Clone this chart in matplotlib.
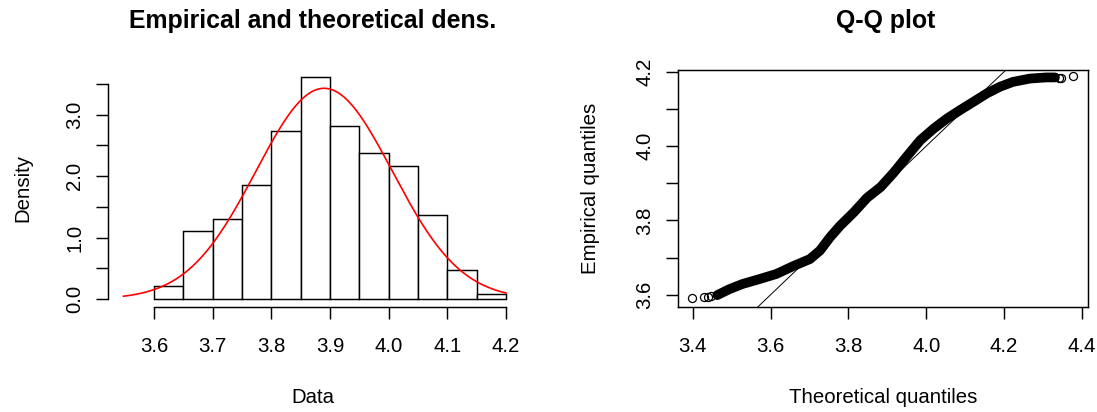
import numpy as np
import matplotlib
matplotlib.use("Agg")
import matplotlib.pyplot as plt

plt.rcParams['font.family'] = ['Liberation Sans', 'DejaVu Sans']

# ---- data: histogram (density) ----
bin_edges = [3.60, 3.65, 3.70, 3.75, 3.80, 3.85, 3.90, 3.95, 4.00, 4.05, 4.10, 4.15, 4.20]
bin_density = [0.21, 1.10, 1.31, 1.85, 2.74, 3.61, 2.82, 2.37, 2.17, 1.36, 0.48, 0.08]

# fitted normal (theoretical density) parameters
norm_mean = 3.89
norm_sd = 0.1163
curve_range = [3.548, 4.20]

# ---- data: Q-Q plot ----
qq_theo = [3.463, 3.494, 3.528, 3.571, 3.615, 3.658, 3.701, 3.727, 3.753, 3.779,
           3.814, 3.848, 3.883, 3.916, 3.950, 3.985, 4.019, 4.053, 4.087, 4.121,
           4.156, 4.190, 4.223, 4.267, 4.309, 4.331]
qq_emp = [3.599, 3.615, 3.629, 3.642, 3.656, 3.677, 3.696, 3.719, 3.755, 3.786,
          3.822, 3.861, 3.890, 3.928, 3.972, 4.016, 4.047, 4.074, 4.097, 4.119,
          4.142, 4.160, 4.173, 4.182, 4.185, 4.185]
qq_tail_theo = [3.397, 3.429, 3.439, 3.448, 4.341, 4.346, 4.378]
qq_tail_emp = [3.590, 3.595, 3.595, 3.597, 4.184, 4.184, 4.189]

hist_xticks = [3.6, 3.7, 3.8, 3.9, 4.0, 4.1, 4.2]
hist_yticks = [0.0, 0.5, 1.0, 1.5, 2.0, 2.5, 3.0, 3.5]
hist_ylabels = ['0.0', '', '1.0', '', '2.0', '', '3.0', '']
qq_xticks = [3.4, 3.6, 3.8, 4.0, 4.2, 4.4]
qq_yticks = [3.6, 3.7, 3.8, 3.9, 4.0, 4.1, 4.2]
qq_ylabels = ['3.6', '', '3.8', '', '4.0', '', '4.2']

W, H = 1097, 412
FS = 14.7
TFS = 17.9
LW = 1.05

fig = plt.figure(figsize=(W / 100, H / 100), dpi=100)
ax1 = fig.add_axes([108 / W, 105 / H, 410 / W, 237 / H])
ax2 = fig.add_axes([678 / W, 105 / H, 410 / W, 237 / H])

# ---- left: histogram + density ----
widths = np.diff(bin_edges)
ax1.bar(bin_edges[:-1], bin_density, width=widths, align='edge',
        facecolor='white', edgecolor='black', linewidth=LW, zorder=2)
xs = np.linspace(curve_range[0], curve_range[1], 300)
ys = np.exp(-0.5 * ((xs - norm_mean) / norm_sd) ** 2) / (norm_sd * np.sqrt(2 * np.pi))
ax1.plot(xs, ys, color='red', linewidth=1.2, zorder=3)

ax1.set_xlim(3.5216, 4.2205)
ax1.set_ylim(-0.130, 3.728)
for s in ['top', 'right']:
    ax1.spines[s].set_visible(False)
ax1.spines['left'].set_bounds(0, 3.5)
ax1.spines['bottom'].set_bounds(3.6, 4.2)
ax1.set_xticks(hist_xticks)
ax1.set_xticklabels([f"{v:.1f}" for v in hist_xticks])
ax1.set_yticks(hist_yticks)
ax1.set_yticklabels(hist_ylabels, rotation=90, va='center')

# ---- right: Q-Q plot ----
ax2.axline((3.6, 3.6), slope=1, color='black', linewidth=0.7, zorder=2)
ax2.plot(qq_theo, qq_emp, color='black', linewidth=7.0,
         solid_capstyle='round', solid_joinstyle='round', zorder=3)
ax2.plot(qq_tail_theo, qq_tail_emp, linestyle='none', marker='o', markersize=5.8,
         markerfacecolor='none', markeredgecolor='black', markeredgewidth=0.9, zorder=4)
ax2.set_xlim(3.362, 4.416)
ax2.set_ylim(3.567, 4.205)
ax2.set_xticks(qq_xticks)
ax2.set_xticklabels([f"{v:.1f}" for v in qq_xticks])
ax2.set_yticks(qq_yticks)
ax2.set_yticklabels(qq_ylabels, rotation=90, va='center')

for ax in (ax1, ax2):
    for sp in ax.spines.values():
        sp.set_linewidth(LW)
    ax.tick_params(axis='both', direction='out', length=8.6, width=LW,
                   labelsize=FS, colors='black')
    ax.tick_params(axis='x', pad=13.0)
    ax.tick_params(axis='y', pad=8.5)

# ---- titles and axis labels ----
fig.text(313 / W, (H - 28) / H, 'Empirical and theoretical dens.', ha='center',
         va='baseline', fontsize=TFS, fontweight='bold')
fig.text(886 / W, (H - 28) / H, 'Q-Q plot', ha='center', va='baseline',
         fontsize=TFS, fontweight='bold')
fig.text(313 / W, (H - 403) / H, 'Data', ha='center', va='baseline', fontsize=FS)
fig.text(883 / W, (H - 403) / H, 'Theoretical quantiles', ha='center', va='baseline',
         fontsize=FS)
fig.text(23 / W, (H - 188) / H, 'Density', ha='center', va='center', rotation=90,
         fontsize=FS)
fig.text(590 / W, (H - 188) / H, 'Empirical quantiles', ha='center', va='center',
         rotation=90, fontsize=FS)

fig.savefig('out.png', dpi=100, facecolor='white')
